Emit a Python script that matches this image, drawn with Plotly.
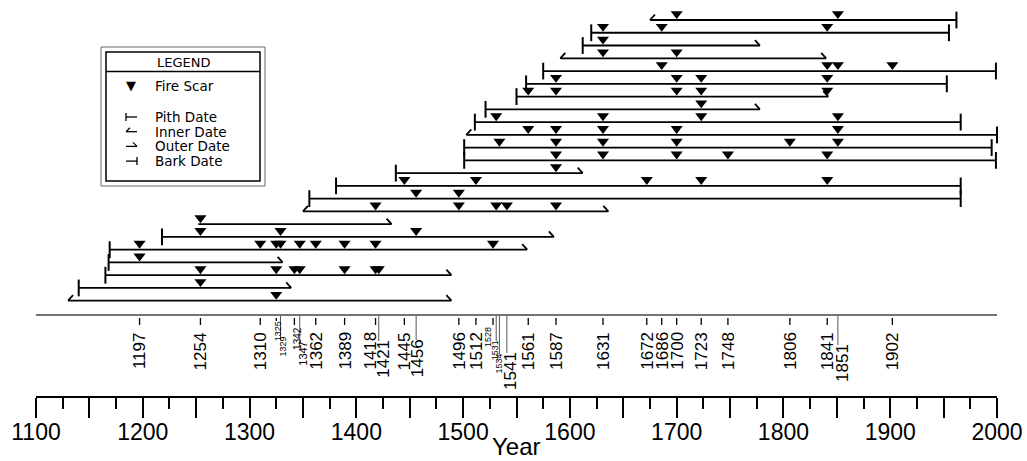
import plotly.graph_objects as go

# ---------------- data ----------------
row_start = [1675, 1620, 1612, 1591, 1575, 1559, 1550, 1521, 1511, 1503, 1501, 1501,
             1437, 1381, 1356, 1350, 1252, 1218, 1169, 1168, 1165, 1140, 1130]
row_start_type = ["inner", "pith", "pith", "inner", "pith", "pith", "pith", "pith", "pith",
                  "inner", "pith", "pith", "pith", "pith", "pith", "inner", "none", "pith",
                  "pith", "pith", "pith", "pith", "inner"]
row_end = [1962, 1955, 1778, 1840, 1999, 1953, 1842, 1778, 1966, 2000, 1995, 1999,
           1612, 1966, 1966, 1636, 1433, 1585, 1560, 1331, 1489, 1339, 1489]
row_end_type = ["bark", "bark", "outer", "outer", "bark", "bark", "outer", "outer", "bark",
                "bark", "bark", "bark", "outer", "bark", "bark", "outer", "outer", "outer",
                "outer", "outer", "outer", "outer", "outer"]
row_scars = [
    [1700, 1851],
    [1631, 1686, 1841],
    [1631],
    [1631, 1700],
    [1686, 1841, 1851, 1902],
    [1587, 1700, 1723, 1841],
    [1561, 1587, 1700, 1723, 1841],
    [1723],
    [1531, 1631, 1723, 1851],
    [1561, 1587, 1631, 1700, 1851],
    [1534, 1587, 1631, 1700, 1806, 1851],
    [1587, 1631, 1700, 1748, 1841],
    [1587],
    [1445, 1512, 1672, 1723, 1841],
    [1456, 1496],
    [1418, 1496, 1531, 1541, 1587],
    [1254],
    [1254, 1329, 1456],
    [1197, 1310, 1325, 1329, 1347, 1362, 1389, 1418, 1528],
    [1197],
    [1254, 1325, 1342, 1347, 1389, 1418, 1421],
    [1254],
    [1325],
]
axis_years = list(range(1100, 2001, 50))
axis_labels = [str(v) if v % 100 == 0 else "" for v in axis_years]
legend_items = ["Pith Date", "Inner Date", "Outer Date", "Bark Date"]

# composite fire years = all scar years
comp_years = sorted({y for r in row_scars for y in r})

# ---------------- layout geometry / style ----------------
W, H = 1027, 461
ML, MR, MB, MT = 36, 30, 65, 0
PLOT_W = W - ML - MR
PLOT_H = H - MB - MT
X0, X1 = 1100, 2000
PPY = PLOT_W / (X1 - X0)          # pixels per year
ROW0_PX, ROW_PX = 20.0, 12.76     # first row position / row spacing (px)
COMP_PX = 315                     # composite axis line
LAB_TOP = 331                     # default top of composite labels


def ydat(py):
    return (py - ROW0_PX) / ROW_PX


def px_x(px):
    return (px - ML) / PLOT_W


def px_y(py):
    return (PLOT_H - py) / PLOT_H


label_style = {
    1325: dict(dx=2, top=320, size=9),
    1329: dict(dx=2, top=336, size=9),
    1342: dict(dx=3, top=326, size=10),
    1347: dict(dx=3, top=341, size=11),
    1418: dict(dx=-6, top=331),
    1421: dict(dx=4, top=339),
    1456: dict(dx=1, top=338),
    1528: dict(dx=-5, top=326, size=9),
    1531: dict(dx=-1, top=339, size=9),
    1534: dict(dx=0, top=352, size=9),
    1541: dict(dx=3, top=351),
    1851: dict(dx=4, top=343),
}

FONT = "Liberation Sans, Arial, sans-serif"
LFONT = "DejaVu Sans, sans-serif"

fig = go.Figure()

# series lines
lx, ly = [], []
for i, (s, e) in enumerate(zip(row_start, row_end)):
    lx += [s, e, None]
    ly += [i, i, None]
fig.add_trace(go.Scatter(x=lx, y=ly, mode="lines", line=dict(color="black", width=1.8),
                         hoverinfo="skip", cliponaxis=False))

# inner / outer date strokes
sx, sy = [], []
ddx, ddy = 5.0 / PPY, 5.5 / ROW_PX
for i, (s, t) in enumerate(zip(row_start, row_start_type)):
    if t == "inner":
        sx += [s, s + ddx, None]
        sy += [i, i - ddy, None]
for i, (e, t) in enumerate(zip(row_end, row_end_type)):
    if t == "outer":
        sx += [e, e - ddx, None]
        sy += [i, i - ddy, None]
fig.add_trace(go.Scatter(x=sx, y=sy, mode="lines", line=dict(color="black", width=1.8),
                         hoverinfo="skip", cliponaxis=False))

# pith / bark ticks
px_, py_ = [], []
for i, (s, t) in enumerate(zip(row_start, row_start_type)):
    if t == "pith":
        px_.append(s)
        py_.append(i)
for i, (e, t) in enumerate(zip(row_end, row_end_type)):
    if t == "bark":
        px_.append(e)
        py_.append(i)
fig.add_trace(go.Scatter(x=px_, y=py_, mode="markers",
                         marker=dict(symbol="line-ns", size=12,
                                     line=dict(color="black", width=2)),
                         hoverinfo="skip", cliponaxis=False))

# fire scars
fx, fy = [], []
for i, r in enumerate(row_scars):
    for yv in r:
        fx.append(yv)
        fy.append(i - 6.2 / ROW_PX)
fig.add_trace(go.Scatter(x=fx, y=fy, mode="markers",
                         marker=dict(symbol="triangle-down", size=10.5, color="black",
                                     line=dict(width=0)),
                         hoverinfo="skip", cliponaxis=False))

# composite axis line
fig.add_shape(type="line", xref="paper", yref="paper", x0=0, x1=1,
              y0=px_y(COMP_PX), y1=px_y(COMP_PX), line=dict(color="#444", width=1.3))

# composite ticks / leaders and labels
tx, ty, gx, gy = [], [], [], []
for yv in comp_years:
    st = label_style.get(yv, {})
    top = st.get("top", LAB_TOP)
    if top > 334:
        gx += [yv, yv, None]
        gy += [ydat(COMP_PX + 1), ydat(top + 2), None]
    else:
        tx += [yv, yv, None]
        ty += [ydat(COMP_PX + 3), ydat(min(325, top + 1)), None]
    fig.add_annotation(x=yv, xref="x", xshift=st.get("dx", 0), y=px_y(top), yref="paper",
                       text=str(yv), textangle=-90, showarrow=False, xanchor="center",
                       yanchor="top", borderpad=0,
                       font=dict(family=FONT, size=st.get("size", 17), color="black"))
fig.add_trace(go.Scatter(x=tx, y=ty, mode="lines", line=dict(color="black", width=1.3),
                         hoverinfo="skip", cliponaxis=False))
fig.add_trace(go.Scatter(x=gx, y=gy, mode="lines", line=dict(color="#555", width=1),
                         hoverinfo="skip", cliponaxis=False))

# legend box
fig.add_shape(type="rect", xref="paper", yref="paper", x0=px_x(101), x1=px_x(265),
              y0=px_y(186), y1=px_y(47), line=dict(color="#666", width=1))
fig.add_shape(type="rect", xref="paper", yref="paper", x0=px_x(106), x1=px_x(260),
              y0=px_y(181), y1=px_y(52), line=dict(color="black", width=1.5))
fig.add_shape(type="line", xref="paper", yref="paper", x0=px_x(106), x1=px_x(260),
              y0=px_y(71.5), y1=px_y(71.5), line=dict(color="black", width=1.5))
fig.add_annotation(x=px_x(183), y=px_y(62), xref="paper", yref="paper", text="LEGEND",
                   showarrow=False, xanchor="center", yanchor="middle",
                   font=dict(family=LFONT, size=13, color="black"))
fig.add_annotation(x=px_x(131), y=px_y(86), xref="paper", yref="paper", text="\u25bc",
                   showarrow=False, xanchor="center", yanchor="middle",
                   font=dict(family=LFONT, size=13, color="black"))
fig.add_annotation(x=px_x(153), y=px_y(86), xref="paper", yref="paper", text="Fire Scar",
                   showarrow=False, xanchor="left", yanchor="middle",
                   font=dict(family=LFONT, size=13.5, color="black"))


def seg(x0, y0, x1, y1, w=1.3):
    fig.add_shape(type="line", xref="paper", yref="paper", x0=px_x(x0), y0=px_y(y0),
                  x1=px_x(x1), y1=px_y(y1), line=dict(color="black", width=w))


for k, lab in enumerate(legend_items):
    yy = 117 + k * 14.7
    fig.add_annotation(x=px_x(153), y=px_y(yy), xref="paper", yref="paper", text=lab,
                       showarrow=False, xanchor="left", yanchor="middle",
                       font=dict(family=LFONT, size=13.5, color="black"))
    seg(126, yy, 137, yy)
    if lab.startswith("Pith"):
        seg(126, yy - 4, 126, yy + 4)
    elif lab.startswith("Inner"):
        seg(126, yy, 130, yy - 4)
    elif lab.startswith("Outer"):
        seg(137, yy, 133, yy - 4)
    else:
        seg(137, yy - 4, 137, yy + 4)

# axis title
fig.add_annotation(x=px_x(516), y=px_y(446), xref="paper", yref="paper", text="Year",
                   showarrow=False, xanchor="center", yanchor="middle",
                   font=dict(family=FONT, size=24, color="black"))

fig.update_layout(
    width=W, height=H, margin=dict(l=ML, r=MR, t=MT, b=MB, pad=0),
    paper_bgcolor="white", plot_bgcolor="white", showlegend=False, hovermode=False,
    xaxis=dict(range=[X0, X1], showgrid=False, zeroline=False, showline=True,
               linecolor="black", linewidth=2, ticks="outside", ticklen=20, tickwidth=2,
               tickcolor="black", tickmode="array", tickvals=axis_years,
               ticktext=axis_labels, ticklabelstandoff=-6,
               tickfont=dict(family=FONT, size=23, color="black"),
               minor=dict(ticks="outside", ticklen=11, tickwidth=2, tickcolor="black",
                          dtick=25, tick0=X0, showgrid=False),
               fixedrange=True),
    yaxis=dict(range=[ydat(PLOT_H), ydat(0)], visible=False, showgrid=False,
               zeroline=False, fixedrange=True),
)

fig.write_html("out.html", config={"displayModeBar": False},
               post_script="document.body.style.margin='0';"
                           "document.body.style.overflow='hidden';")
